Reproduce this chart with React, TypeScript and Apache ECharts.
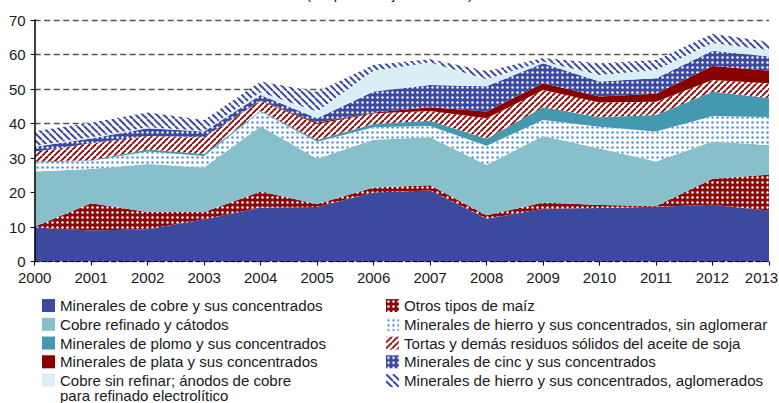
import React, { useEffect, useRef } from 'react';
import * as echarts from 'echarts';

const years = ['2000', '2001', '2002', '2003', '2004', '2005', '2006', '2007', '2008', '2009', '2010', '2011', '2012', '2013'];

const cobreMinerales = [9.9, 9.0, 9.4, 12.3, 15.7, 15.8, 20.0, 20.6, 12.4, 15.3, 15.5, 15.9, 16.5, 14.8];
const otrosMaiz = [0.3, 7.9, 5.0, 2.1, 4.6, 0.9, 1.5, 1.5, 1.0, 1.8, 0.9, 0.2, 7.5, 10.4];
const cobreRefinado = [15.9, 9.9, 13.9, 12.9, 18.9, 13.1, 13.8, 13.9, 14.6, 19.3, 16.4, 12.9, 10.8, 8.6];
const hierroSinAglomerar = [2.6, 2.4, 3.6, 3.3, 4.3, 4.9, 3.6, 3.3, 5.6, 4.6, 6.3, 8.7, 7.4, 8.1];
const plomo = [0.3, 0.2, 0.6, 0.6, 0.2, 0.5, 1.0, 1.5, 2.0, 3.7, 2.7, 4.8, 7.0, 5.5];
const tortasSoja = [2.8, 4.9, 3.9, 4.8, 2.8, 4.7, 3.1, 2.8, 5.9, 5.0, 4.3, 3.8, 3.4, 4.3];
const plata = [0, 0, 0, 0, 0.2, 0.3, 0.2, 1.1, 2.0, 2.0, 1.7, 2.3, 4.1, 3.6];
const cinc = [1.5, 1.4, 2.2, 1.7, 1.6, 1.3, 6.1, 6.5, 7.3, 5.8, 4.4, 4.5, 4.4, 4.1];
const cobreSinRefinar = [0.3, 0.3, 0.3, 0.2, 0.8, 2.0, 6.0, 6.5, 2.0, 0.5, 1.9, 2.4, 2.2, 1.9];
const hierroAglomerados = [4.2, 4.3, 4.3, 3.1, 3.1, 5.7, 1.7, 0.9, 2.4, 1.0, 3.4, 2.9, 2.7, 2.3];

const yTicks = [0, 10, 20, 30, 40, 50, 60, 70];

const N_COBRE = 'Minerales de cobre y sus concentrados';
const N_MAIZ = 'Otros tipos de maíz';
const N_REFINADO = 'Cobre refinado y cátodos';
const N_HIERRO_SIN = 'Minerales de hierro y sus concentrados, sin aglomerar';
const N_PLOMO = 'Minerales de plomo y sus concentrados';
const N_TORTAS = 'Tortas y demás residuos sólidos del aceite de soja';
const N_PLATA = 'Minerales de plata y sus concentrados';
const N_CINC = 'Minerales de cinc y sus concentrados';
const N_SIN_REF = 'Cobre sin refinar; ánodos de cobre\npara refinado electrolítico';
const N_HIERRO_AGL = 'Minerales de hierro y sus concentrados, aglomerados';

const BLUE = '#3B4A9F';
const DARKRED = '#8A0B0B';

function dotPattern(bg: string, fg: string, size: number, r: number) {
  const c = document.createElement('canvas');
  c.width = size;
  c.height = size;
  const ctx = c.getContext('2d')!;
  ctx.fillStyle = bg;
  ctx.fillRect(0, 0, size, size);
  ctx.fillStyle = fg;
  ctx.beginPath();
  ctx.arc(size / 2, size / 2, r, 0, Math.PI * 2);
  ctx.fill();
  return { image: c, repeat: 'repeat', imageWidth: size, imageHeight: size };
}

function hatchPattern(bg: string, fg: string, size: number, width: number, dir: '/' | '\\') {
  const c = document.createElement('canvas');
  c.width = size;
  c.height = size;
  const ctx = c.getContext('2d')!;
  ctx.fillStyle = bg;
  ctx.fillRect(0, 0, size, size);
  ctx.strokeStyle = fg;
  ctx.lineWidth = width;
  for (const k of [-size, 0, size]) {
    ctx.beginPath();
    if (dir === '/') {
      ctx.moveTo(k, size);
      ctx.lineTo(k + size, 0);
    } else {
      ctx.moveTo(k, 0);
      ctx.lineTo(k + size, size);
    }
    ctx.stroke();
  }
  return { image: c, repeat: 'repeat', imageWidth: size, imageHeight: size };
}

export default function App() {
  const ref = useRef<HTMLDivElement>(null);

  useEffect(() => {
    document.body.style.margin = '0';
    if (!ref.current) return;
    const chart = echarts.init(ref.current, null, { renderer: 'svg' });

    const fills: Record<string, any> = {
      [N_COBRE]: BLUE,
      [N_MAIZ]: dotPattern(DARKRED, '#ffffff', 5, 1.2),
      [N_REFINADO]: '#87C0CB',
      [N_HIERRO_SIN]: dotPattern('#ffffff', '#5C90D8', 5, 1.25),
      [N_PLOMO]: '#4499B0',
      [N_TORTAS]: hatchPattern('#ffffff', DARKRED, 6, 1.9, '/'),
      [N_PLATA]: '#880000',
      [N_CINC]: dotPattern(BLUE, '#ffffff', 5, 1.2),
      [N_SIN_REF]: '#DAEEF6',
      [N_HIERRO_AGL]: hatchPattern('#ffffff', BLUE, 7, 2.0, '\\'),
    };

    const stackOrder: [string, number[]][] = [
      [N_COBRE, cobreMinerales],
      [N_MAIZ, otrosMaiz],
      [N_REFINADO, cobreRefinado],
      [N_HIERRO_SIN, hierroSinAglomerar],
      [N_PLOMO, plomo],
      [N_TORTAS, tortasSoja],
      [N_PLATA, plata],
      [N_CINC, cinc],
      [N_SIN_REF, cobreSinRefinar],
      [N_HIERRO_AGL, hierroAglomerados],
    ];

    const font = '"Liberation Sans", Arial, sans-serif';
    const legendText = { fontSize: 15.1, lineHeight: 16.5, color: '#1a1a1a', fontFamily: font };
    const legendItem = (name: string) => ({
      name,
      icon: 'rect',
      itemStyle: { color: fills[name], borderWidth: 0 },
    });
    const legendBase = {
      orient: 'vertical',
      padding: 0,
      itemWidth: 13,
      itemHeight: 13,
      itemGap: 2.25,
      selectedMode: false,
      textStyle: legendText,
    };

    chart.setOption({
      animation: false,
      backgroundColor: '#ffffff',
      grid: { left: 34.7, right: 10, top: 20, bottom: 141.4, containLabel: false, outerBoundsMode: 'none' },
      graphic: [
        {
          type: 'text',
          left: 'center',
          top: -14,
          style: { text: '(En porcentajes del total)', font: `15px ${font}`, fill: '#1a1a1a' },
        },
      ],
      legend: [
        { ...legendBase, left: 42, top: 297.3, data: [N_COBRE, N_REFINADO, N_PLOMO, N_PLATA].map(legendItem) },
        {
          ...legendBase,
          left: 42,
          top: 372.25,
          itemHeight: 28.5,
          textStyle: { ...legendText, fontSize: 15, lineHeight: 15.5 },
          data: [
            {
              name: N_SIN_REF,
              icon: 'path://M0,0H13V13H0Z M0,28.5L13,28.5',
              itemStyle: { color: fills[N_SIN_REF], borderWidth: 0 },
            },
          ],
        },
        {
          ...legendBase,
          left: 386,
          top: 297.3,
          data: [N_MAIZ, N_HIERRO_SIN, N_TORTAS, N_CINC, N_HIERRO_AGL].map(legendItem),
        },
      ],
      xAxis: {
        type: 'category',
        data: years,
        boundaryGap: false,
        z: 10,
        axisLine: { show: true, lineStyle: { color: '#000', width: 1, type: [4, 3] } },
        axisTick: { show: true, length: 4, lineStyle: { color: '#000', width: 1 } },
        axisLabel: {
          interval: 0,
          margin: 8,
          fontSize: 15,
          color: '#1a1a1a',
          fontFamily: font,
          formatter: (v: string) => (v === years[years.length - 1] ? `{e|${v}}` : v),
          rich: { e: { fontSize: 15, fontFamily: font, color: '#1a1a1a', padding: [0, 15, 0, 0] } },
        },
        splitLine: { show: false },
      },
      yAxis: [
        {
          type: 'value',
          min: yTicks[0],
          max: yTicks[yTicks.length - 1],
          interval: 10,
          axisLine: { show: false },
          axisTick: { show: false },
          axisLabel: { margin: 9, fontSize: 15, color: '#1a1a1a', fontFamily: font },
          splitLine: { show: true, lineStyle: { color: '#555', width: 1.3, type: [6, 3.5] } },
        },
        {
          type: 'value',
          position: 'left',
          min: yTicks[0],
          max: yTicks[yTicks.length - 1],
          interval: 10,
          z: 10,
          axisLine: { show: true, lineStyle: { color: '#000', width: 1.5 } },
          axisTick: { show: true, length: 4, lineStyle: { color: '#000', width: 1 } },
          axisLabel: { show: false },
          splitLine: { show: false },
        },
      ],
      series: stackOrder.map(([name, data]) => ({
        type: 'line',
        name,
        data,
        stack: 'total',
        yAxisIndex: 0,
        symbol: 'none',
        showSymbol: false,
        lineStyle: { width: 0 },
        areaStyle: { color: fills[name], opacity: 1 },
        emphasis: { disabled: true },
        silent: true,
      })),
    });

    return () => chart.dispose();
  }, []);

  return <div ref={ref} style={{ width: 779, height: 403 }} />;
}
